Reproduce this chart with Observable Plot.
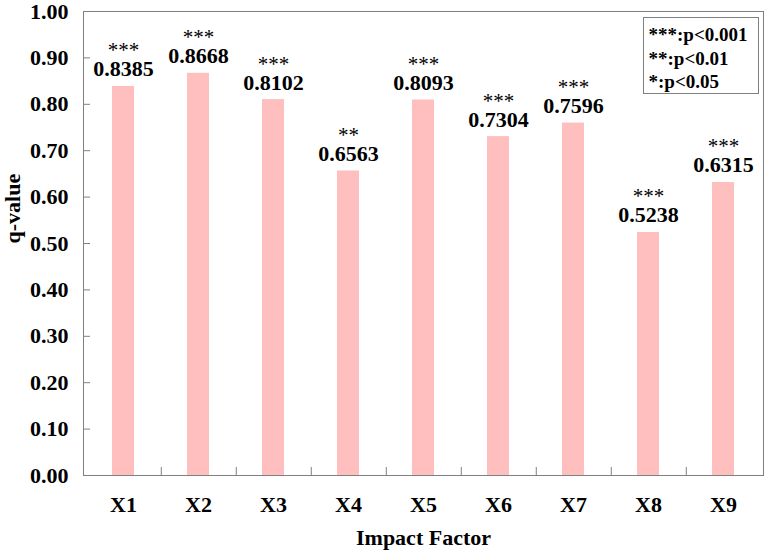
<!DOCTYPE html>
<html><head><meta charset="utf-8">
<script src="https://cdn.jsdelivr.net/npm/d3@7"></script>
<script src="https://cdn.jsdelivr.net/npm/@observablehq/plot@0.6"></script>
<style>body{margin:0;background:#fff;}</style>
</head><body><div id="chart"></div>
<script>
const factors = ["X1", "X2", "X3", "X4", "X5", "X6", "X7", "X8", "X9"];
const qValues = [0.8385, 0.8668, 0.8102, 0.6563, 0.8093, 0.7304, 0.7596, 0.5238, 0.6315];
const significance = ["***", "***", "***", "**", "***", "***", "***", "***", "***"];
const yTicks = [0, 0.1, 0.2, 0.3, 0.4, 0.5, 0.6, 0.7, 0.8, 0.9, 1.0];
const legendLines = ["***:p<0.001", "**:p<0.01", "*:p<0.05"];
const xTitle = "Impact Factor";
const yTitle = "q-value";

const data = factors.map((f, i) => ({factor: f, q: qValues[i], sig: significance[i]}));
const serif = "'Liberation Serif','Times New Roman',serif";

const chart = Plot.plot({
  width: 767, height: 552,
  marginLeft: 83, marginRight: 4, marginTop: 11, marginBottom: 77,
  style: {fontFamily: serif, background: "#fff", color: "#000"},
  x: {domain: factors, paddingInner: 0.71, paddingOuter: 0.355, label: null},
  y: {domain: [0, 1], label: null},
  marks: [
    Plot.barY(data, {x: "factor", y: "q", fill: "#ffbfbf"}),
    Plot.frame({stroke: "#808080"}),
    Plot.axisY(yTicks, {tickSize: 0, tickPadding: 15, tickFormat: d3.format(".2f"), fontSize: 22, fontWeight: "bold", label: null}),
    Plot.axisY(yTicks, {tickSize: -7, tickFormat: () => "", stroke: "#808080", label: null}),
    Plot.axisX({tickSize: 0, tickPadding: 21, fontSize: 22, fontWeight: "bold", label: null}),
    Plot.axisX(factors.slice(0, -1), {tickSize: -8, tickFormat: () => "", dx: 37.78, stroke: "#808080", label: null}),
    Plot.text(data, {x: "factor", y: "q", text: d => d.q.toFixed(4), dy: -10, lineAnchor: "bottom", fontSize: 22, fontWeight: "bold"}),
    Plot.text(data, {x: "factor", y: "q", text: "sig", dy: -29, lineAnchor: "bottom", fontSize: 21}),
    Plot.frame({fill: "#fff", stroke: "#808080", insetLeft: 560, insetRight: 5, insetTop: 6, insetBottom: 382}),
    Plot.text([legendLines.join("\n")], {frameAnchor: "top-left", dx: 565, dy: 13, lineAnchor: "top", lineHeight: 1.24, textAnchor: "start", fontSize: 19, fontWeight: "bold"}),
    Plot.text([xTitle], {frameAnchor: "bottom", dy: 62, lineAnchor: "middle", fontSize: 22, fontWeight: "bold"}),
    Plot.text([yTitle], {frameAnchor: "left", dx: -71, rotate: -90, lineAnchor: "middle", fontSize: 22, fontWeight: "bold"})
  ]
});
document.getElementById("chart").append(chart);
</script>
</body></html>
